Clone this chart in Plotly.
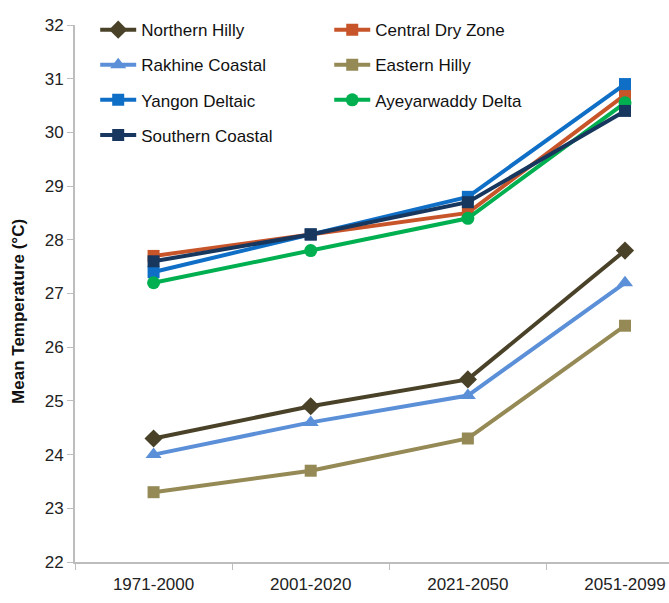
import plotly.graph_objects as go

periods = ["1971-2000", "2001-2020", "2021-2050", "2051-2099"]

northern_hilly = [24.3, 24.9, 25.4, 27.8]
central_dry_zone = [27.7, 28.1, 28.5, 30.7]
rakhine_coastal = [24.0, 24.6, 25.1, 27.2]
eastern_hilly = [23.3, 23.7, 24.3, 26.4]
yangon_deltaic = [27.4, 28.1, 28.8, 30.9]
ayeyarwaddy_delta = [27.2, 27.8, 28.4, 30.55]
southern_coastal = [27.6, 28.1, 28.7, 30.4]

y_ticks = list(range(22, 33))

# name, values, colour, marker symbol, marker size, legend column
series = [
    ("Northern Hilly", northern_hilly, "#4a4228", "diamond", 14, "legend"),
    ("Central Dry Zone", central_dry_zone, "#c8552a", "square", 12, "legend2"),
    ("Rakhine Coastal", rakhine_coastal, "#5b8fd8", "triangle-up", 14, "legend"),
    ("Eastern Hilly", eastern_hilly, "#958a55", "square", 12, "legend2"),
    ("Yangon Deltaic", yangon_deltaic, "#0f6fc6", "square", 12, "legend"),
    ("Ayeyarwaddy Delta", ayeyarwaddy_delta, "#00b050", "circle", 13, "legend2"),
    ("Southern Coastal", southern_coastal, "#17375e", "square", 12, "legend"),
]

fig = go.Figure()
for i, (name, vals, color, symbol, msize, leg) in enumerate(series):
    fig.add_trace(go.Scatter(
        x=periods, y=vals, name=name, mode="lines+markers",
        line=dict(color=color, width=4),
        marker=dict(symbol=symbol, size=msize, color=color),
        legend=leg, legendgroup=f"g{i}",
    ))

font_family = "Liberation Sans, Arial, sans-serif"
legend_style = dict(
    font=dict(family=font_family, size=17, color="#111111"),
    bgcolor="rgba(0,0,0,0)", tracegroupgap=10,
    xref="paper", yref="paper", xanchor="left", yanchor="top",
    itemwidth=36,
)

fig.update_layout(
    width=669, height=603,
    margin=dict(l=75, r=0, t=25, b=41),
    paper_bgcolor="white", plot_bgcolor="white",
    font=dict(family=font_family, size=17, color="#222222"),
    legend=dict(x=0.034, y=1.024, **legend_style),
    legend2=dict(x=0.428, y=1.024, **legend_style),
    xaxis=dict(
        type="category", range=[-0.5, 3.28],
        showline=True, linecolor="#bdbdbd", linewidth=2,
        ticks="outside", tickson="boundaries", ticklen=6, tickcolor="#bdbdbd",
        showgrid=False, zeroline=False, ticklabelstandoff=6,
        tickfont=dict(size=17, color="#222222"),
    ),
    yaxis=dict(
        range=[22, 32], tickvals=y_ticks,
        showline=True, linecolor="#bdbdbd", linewidth=2,
        ticks="outside", ticklen=6, tickcolor="#bdbdbd",
        showgrid=False, zeroline=False,
        tickfont=dict(size=17, color="#222222"),
    ),
    annotations=[dict(
        text="<b>Mean Temperature (°C)</b>", textangle=-90,
        xref="paper", yref="paper", x=-0.094, y=0.466,
        xanchor="center", yanchor="middle", showarrow=False,
        font=dict(family=font_family, size=17, color="#111111"),
    )],
)

fig.write_html("out.html")
